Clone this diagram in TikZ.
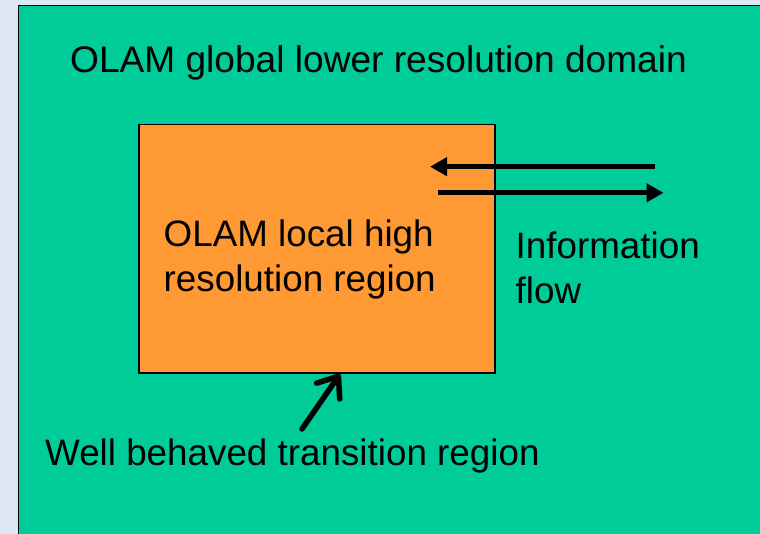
\documentclass[tikz,border=0pt]{standalone}
\usepackage{fontspec}
\setmainfont{Liberation Sans}
\usepackage{xcolor}
\usetikzlibrary{arrows.meta}

\definecolor{olamgreen}{RGB}{0,204,153}
\definecolor{olamorange}{RGB}{255,153,51}
\definecolor{slideblue}{RGB}{222,232,244}

\begin{document}
\begin{tikzpicture}[x=1pt,y=-1pt,>={Triangle[length=17pt,width=18pt]},
 box/.style={draw=black,line width=1.5pt,anchor=north west,inner sep=0pt},
 txt/.style={anchor=base west,inner sep=0pt,font=\fontsize{36.8}{45}\selectfont},
 flow/.style={->,line width=5pt},
 pointer/.style={-{Straight Barb[length=18pt,width=28pt,round]},line width=5.5pt,line cap=round}]
 \fill[slideblue] (0,0) rectangle (760,534);
 \clip (0,0) rectangle (760,534);

 \node[box,fill=olamgreen,minimum width=760pt,minimum height=540pt] (domain) at (17.5,5) {};
 \node[box,fill=olamorange,minimum width=356pt,minimum height=248pt] (region) at (138,124) {};

 \node[txt,font=\fontsize{37.1}{45}\selectfont] (global) at (70,72.7) {OLAM global lower resolution domain};
 \node[txt] (local1) at (163.5,246.7) {OLAM local high};
 \node[txt] (local2) at (163.5,291.7) {resolution region};
 \node[txt] (info1) at (515.5,258.3) {Information};
 \node[txt] (info2) at (515.5,303.3) {flow};
 \node[txt] (trans) at (45,465.7) {Well behaved transition region};

 \coordinate (inR) at (654.5,166.7);
 \coordinate (inL) at (430,166.7);
 \coordinate (outL) at (438,192.8);
 \coordinate (outR) at (663.5,192.8);
 \coordinate (tail) at (302,429);
 \coordinate (edge) at (340,374);

 \draw[flow] (inR) -- (inL);
 \draw[flow] (outL) -- (outR);
 \draw[pointer] (tail) -- (edge);
\end{tikzpicture}
\end{document}
